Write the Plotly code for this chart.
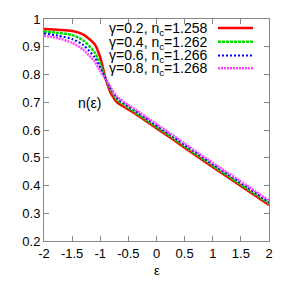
import plotly.graph_objects as go

eps = [-2, -1.75, -1.5, -1.3, -1.1, -1.0, -0.9, -0.8, -0.7, -0.55, -0.4, -0.2, 0.25, 0.7, 1.15, 1.6, 2.0]
n_g02 = [0.964, 0.961, 0.957, 0.944, 0.909, 0.862, 0.782, 0.728, 0.700, 0.680, 0.661, 0.634, 0.572, 0.508, 0.446, 0.385, 0.330]
n_g04 = [0.955, 0.950, 0.942, 0.923, 0.880, 0.838, 0.783, 0.738, 0.709, 0.687, 0.667, 0.639, 0.577, 0.513, 0.451, 0.390, 0.335]
n_g06 = [0.948, 0.940, 0.928, 0.906, 0.862, 0.824, 0.783, 0.743, 0.715, 0.692, 0.672, 0.644, 0.582, 0.518, 0.456, 0.396, 0.340]
n_g08 = [0.940, 0.931, 0.914, 0.889, 0.846, 0.812, 0.783, 0.748, 0.720, 0.697, 0.677, 0.649, 0.587, 0.523, 0.461, 0.401, 0.346]

labels = ["γ=0.2, n<sub>c</sub>=1.258", "γ=0.4, n<sub>c</sub>=1.262",
          "γ=0.6, n<sub>c</sub>=1.266", "γ=0.8, n<sub>c</sub>=1.268"]
x_ticks = [-2, -1.5, -1, -0.5, 0, 0.5, 1, 1.5, 2]
x_ticktext = ["-2", "-1.5", "-1", "-0.5", "0", "0.5", "1", "1.5", "2"]
y_ticks = [0.2, 0.3, 0.4, 0.5, 0.6, 0.7, 0.8, 0.9, 1]
y_ticktext = ["0.2", "0.3", "0.4", "0.5", "0.6", "0.7", "0.8", "0.9", "1"]

series = [n_g02, n_g04, n_g06, n_g08]
colors = ["#ff0000", "#00dd00", "#0000ff", "#ff44ff"]
dashes = ["solid", "3px,1px", "2px,2px", "2px,1px"]
widths = [2.5, 2.5, 2.0, 2.5]

fig = go.Figure()
for s, c, d, w in zip(series, colors, dashes, widths):
    fig.add_trace(go.Scatter(x=eps, y=s, mode="lines",
                             line=dict(color=c, dash=d, width=w, shape="spline", smoothing=0.6),
                             showlegend=False, hoverinfo="skip"))

font = dict(family="Liberation Sans, Arial, sans-serif", size=13, color="#000")
legend_font = dict(family="Liberation Sans, Arial, sans-serif", size=14, color="#000")
axis_common = dict(showgrid=False, zeroline=False, ticks="inside", ticklen=5, tickcolor="#888",
                   showline=True, linecolor="#888", linewidth=1, mirror="ticks", tickfont=font)
fig.update_xaxes(range=[-2, 2], tickvals=x_ticks, ticktext=x_ticktext, **axis_common)
fig.update_yaxes(range=[0.2, 1], tickvals=y_ticks, ticktext=y_ticktext, **axis_common)

W, H = 296, 282
top, bottom, left, right = 16, 241, 44, 269
def py2paper(py):
    return (bottom - py) / (bottom - top)
def px2paper(px):
    return (px - left) / (right - left)

annotations = []
shapes = []
rows_y = [25, 39, 53, 66]
for lab, c, d, w, ry in zip(labels, colors, dashes, widths, rows_y):
    annotations.append(dict(x=px2paper(210), y=py2paper(ry + 1), xref="paper", yref="paper",
                            text=lab, showarrow=False, xanchor="right", yanchor="middle", font=legend_font))
    shapes.append(dict(type="line", xref="paper", yref="paper",
                       x0=px2paper(218), x1=px2paper(253), y0=py2paper(ry), y1=py2paper(ry),
                       line=dict(color=c, dash=d, width=w)))
annotations.append(dict(x=-1.2, y=0.698, xref="x", yref="y", text="n(ε)", showarrow=False, font=legend_font))
annotations.append(dict(x=0.5, y=py2paper(271), xref="paper", yref="paper", text="ε", showarrow=False,
                        font=font, yanchor="middle"))

fig.update_layout(width=W, height=H, margin=dict(l=left, r=W - right, t=top, b=H - bottom),
                  plot_bgcolor="white", paper_bgcolor="white", annotations=annotations, shapes=shapes,
                  font=font)
fig.write_html("out.html", config={"displayModeBar": False},
               post_script="document.body.style.margin='0';")
